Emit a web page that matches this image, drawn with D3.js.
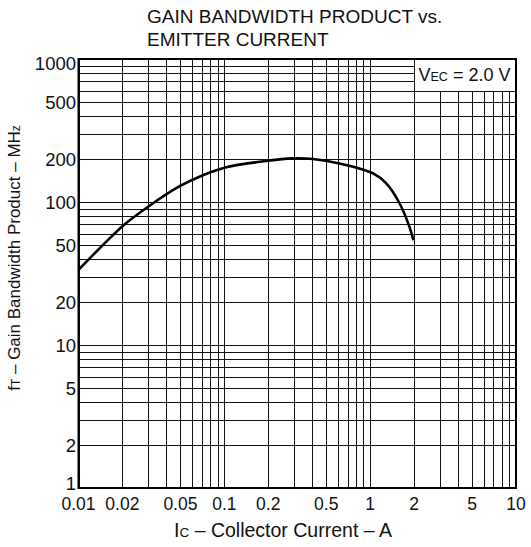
<!DOCTYPE html>
<html>
<head>
<meta charset="utf-8">
<script src="https://cdn.jsdelivr.net/npm/d3@7/dist/d3.min.js"></script>
<style>
  html, body { margin: 0; padding: 0; background: #fff; }
  svg { display: block; font-family: "Liberation Sans", Arial, Helvetica, sans-serif; }
</style>
</head>
<body>
<svg id="chart" width="531" height="547"></svg>
<script>
// ---- data ----
const collectorCurrent = [0.01, 0.0136, 0.0202, 0.030, 0.0494, 0.0713, 0.103, 0.175, 0.295, 0.405, 0.616, 1.04, 1.29, 1.59, 1.86, 1.98];
const gainBandwidth   = [33.5, 46.2, 68.3, 92.7, 129, 154, 175, 191, 202, 200, 186, 159, 135, 98, 67, 54];
const xTickLabels = [0.01, 0.02, 0.05, 0.1, 0.2, 0.5, 1, 2, 5, 10];
const yTickLabels = [1, 2, 5, 10, 20, 50, 100, 200, 500, 1000];
const xDomain = [0.01, 10];
const yDomain = [1, 1000];

// ---- layout ----
const L = 78.5, R = 516, T = 59, B = 488;
const svg = d3.select("#chart");
const x = d3.scaleLog().domain(xDomain).range([L, R]);
const y = d3.scaleLog().domain(yDomain).range([B, T]);

function gridValues(domain) {
  const out = [];
  for (let e = Math.round(Math.log10(domain[0])); e < Math.round(Math.log10(domain[1])); e++) {
    for (let m = 1; m <= 10; m++) out.push(+(m * Math.pow(10, e)).toPrecision(6));
  }
  return Array.from(new Set(out));
}
const xGrid = gridValues(xDomain);
const yGrid = gridValues(yDomain);

const g = svg.append("g");
g.selectAll("line.vg").data(xGrid).join("line")
  .attr("class", "vg")
  .attr("x1", d => Math.round(x(d)) + 0.5).attr("x2", d => Math.round(x(d)) + 0.5)
  .attr("y1", T).attr("y2", B)
  .attr("stroke", "#111").attr("stroke-width", 1);
g.selectAll("line.hg").data(yGrid).join("line")
  .attr("class", "hg")
  .attr("y1", d => Math.round(y(d)) + 0.5).attr("y2", d => Math.round(y(d)) + 0.5)
  .attr("x1", L).attr("x2", R)
  .attr("stroke", "#111").attr("stroke-width", 1);

// legend box (covers grid in top-right)
const boxX = Math.round(x(2)) + 0.5, boxY = Math.round(y(600)) + 0.5;
svg.append("rect").attr("x", boxX).attr("y", T).attr("width", R - boxX).attr("height", boxY - T)
  .attr("fill", "#fff").attr("stroke", "#111").attr("stroke-width", 1);
const leg = svg.append("text").attr("x", 418.5).attr("y", 81).attr("font-size", 18).attr("fill", "#111");
leg.append("tspan").text("V");
leg.append("tspan").attr("font-size", 12.5).text("EC");
leg.append("tspan").text(" = 2.0 V");

// frame
svg.append("rect").attr("x", L).attr("y", T).attr("width", R - L).attr("height", B - T)
  .attr("fill", "none").attr("stroke", "#000").attr("stroke-width", 2);

// curve
const line = d3.line().x(d => x(d[0])).y(d => y(d[1])).curve(d3.curveCatmullRom.alpha(0.5));
svg.append("path").datum(collectorCurrent.map((c, i) => [c, gainBandwidth[i]]))
  .attr("d", line).attr("fill", "none").attr("stroke", "#000").attr("stroke-width", 2.6);

// axes labels
svg.append("g").selectAll("text").data(xTickLabels).join("text")
  .attr("x", d => x(d)).attr("y", 509.5).attr("text-anchor", "middle")
  .attr("font-size", 17.5).attr("fill", "#111").text(d => d);
svg.append("g").selectAll("text").data(yTickLabels).join("text")
  .attr("x", 76).attr("y", d => y(d) + (d === 1 ? -5 : d === 1000 ? 4 : 0))
  .attr("dy", "0.36em").attr("text-anchor", "end")
  .attr("font-size", 18.5).attr("fill", "#111").text(d => d);

// axis titles
const xt = svg.append("text").attr("x", 283).attr("y", 536.5).attr("text-anchor", "middle")
  .attr("font-size", 19.5).attr("fill", "#111");
xt.append("tspan").text("I");
xt.append("tspan").attr("font-size", 13.5).text("C");
xt.append("tspan").text(" – Collector Current – A");

const yt = svg.append("text").attr("transform", "translate(20,258) rotate(-90)").attr("text-anchor", "middle")
  .attr("font-size", 17).attr("fill", "#111");
yt.append("tspan").text("f");
yt.append("tspan").attr("font-size", 12).text("T");
yt.append("tspan").text(" – Gain Bandwidth Product – MH");
yt.append("tspan").attr("font-size", 12).text("z");

// title
const title = svg.append("text").attr("font-size", 19).attr("fill", "#111");
title.append("tspan").attr("x", 147).attr("y", 22.5).text("GAIN BANDWIDTH PRODUCT vs.");
title.append("tspan").attr("x", 147).attr("y", 45.5).text("EMITTER CURRENT");
</script>
</body>
</html>
